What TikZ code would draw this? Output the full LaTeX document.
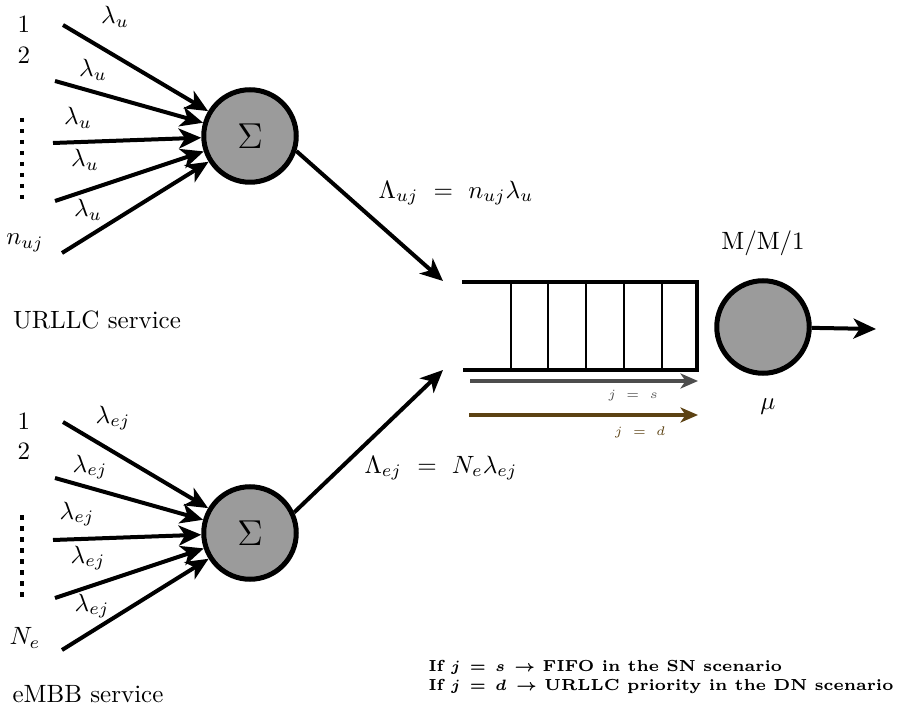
\documentclass[tikz,border=0pt]{standalone}
\usepackage{amsmath}
\usepackage{tikz}
\usetikzlibrary{arrows.meta}

\definecolor{sgray}{RGB}{77,77,77}
\definecolor{dbrown}{RGB}{92,66,19}
\definecolor{nodegray}{RGB}{155,155,155}

\tikzset{
  sumnode/.style={circle, draw, line width=2pt, fill=nodegray, minimum size=37pt, inner sep=0pt},
  flowarrow/.style={line width=1.6pt, -{Stealth[length=9pt,width=8pt,inset=2.5pt]}},
  thinarrow/.style={line width=1.4pt, -{Stealth[length=7pt,width=6pt,inset=2pt]}},
  vdots/.style={line width=1.8pt, dash pattern=on 1.8pt off 2.6pt},
}

\begin{document}
\begin{tikzpicture}[x=0.4pt,y=0.4pt,yscale=-1,xscale=1]
                \path[use as bounding box] (0,0) rectangle (897,704);
                %Shape: Circles [id:sum nodes]
                \node[sumnode] (sumU) at (250,136) {\Large$\Sigma$};
                \node[sumnode] (sumE) at (250,533) {\Large$\Sigma$};
                \node[sumnode] (server) at (763,327) {};
                %Start points of the input flows
                \coordinate (u1) at (63,25);
                \coordinate (u2) at (55,81);
                \coordinate (u3) at (53,143);
                \coordinate (u4) at (55,201);
                \coordinate (u5) at (62,253);
                \coordinate (e1) at (63,422);
                \coordinate (e2) at (55,478);
                \coordinate (e3) at (53,540);
                \coordinate (e4) at (55,598);
                \coordinate (e5) at (62,650);
                %Queue entries and exit
                \coordinate (qinU) at (443,281);
                \coordinate (qinE) at (443,370);
                \coordinate (out) at (876,329);
                %Input flows
                \foreach \i in {1,...,5}{
                  \draw[flowarrow] (u\i) -- (sumU);
                  \draw[flowarrow] (e\i) -- (sumE);
                }
                %Aggregated flows
                \draw[flowarrow] (sumU.-18) -- (qinU);
                \draw[flowarrow] (sumE.25) -- (qinE);
                \draw[flowarrow] (server) -- (out);
                %Shape: Queue [id:queue]
                \draw[line width=1.3pt] (462,282) -- (697,282) -- (697,370) -- (463,370);
                \foreach \x in {511,548,586,624,662}{
                  \draw[line width=0.6pt] (\x,282) -- (\x,370);
                }
                %Service order arrows
                \coordinate (sA) at (470,381);
                \coordinate (sB) at (698,381);
                \coordinate (dA) at (469,415);
                \coordinate (dB) at (698,415);
                \draw[thinarrow, sgray] (sA) -- (sB);
                \draw[thinarrow, dbrown] (dA) -- (dB);
                %Dots
                \draw[vdots] (22,118) -- (22,200);
                \draw[vdots] (22,515) -- (22,597);

                % Text Node
                \node (lu1) at (115,17) {$\lambda_u$};
                \node (lu2) at (93,70) {$\lambda_u$};
                \node (lu3) at (78,118) {$\lambda_u$};
                \node (lu4) at (85,160) {$\lambda_u$};
                \node (lu5) at (88,210) {$\lambda_u$};
                \node (le1) at (113,418) {$\lambda_{ej}$};
                \node (le2) at (90,467) {$\lambda_{ej}$};
                \node (le3) at (77,514) {$\lambda_{ej}$};
                \node (le4) at (88,558) {$\lambda_{ej}$};
                \node (le5) at (92,606) {$\lambda_{ej}$};
                % Text Node
                \node (nu1) at (24,24) {1};
                \node (nu2) at (24,55) {2};
                \node (nuj) at (25,243) {$n_{uj}$};
                \node (ne1) at (24,421) {1};
                \node (ne2) at (24,451) {2};
                \node (nej) at (25,638) {$N_e$};
                % Text Node
                \node (urllc) at (97,320) {URLLC service};
                \node (embb) at (88,694) {eMBB service};
                % Text Node
                \node (rateU) at (456,193) {$\Lambda_{uj}\ =\ n_{uj}\lambda_u$};
                \node (rateE) at (441,468) {$\Lambda_{ej}\ =\ N_e\lambda_{ej}$};
                \node (mm1) at (763,243) {M/M/1};
                \node (mu) at (768,407) {$\mu$};
                % Text Node
                \node[sgray] (js) at (633,396) {\tiny$j\;=\;s$};
                \node[dbrown] (jd) at (640,432) {\tiny$j\;=\;d$};
                % Text Node
                \node[anchor=north west, inner sep=0pt, align=left, font=\fontsize{6.4}{7.4}\selectfont\bfseries\boldmath] (note) at (428,660)
                  {If $j\,=\,s\,\rightarrow$ FIFO in the SN scenario\\
                   If $j\,=\,d\,\rightarrow$ URLLC priority in the DN scenario};
\end{tikzpicture}
\end{document}
